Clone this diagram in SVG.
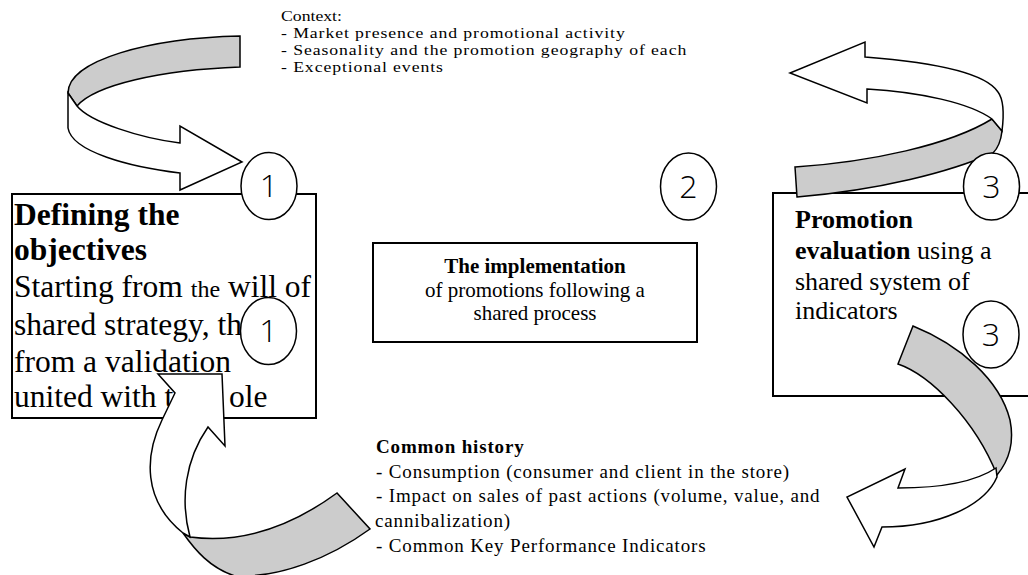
<svg xmlns="http://www.w3.org/2000/svg" width="1028" height="575" viewBox="0 0 1028 575">
  <style>
    .box { fill: #fff; stroke: #000; stroke-width: 2; }
    .badge { fill: #fff; stroke: #000; stroke-width: 1.5; }
    .digit { font-family: "Open Sans", "DejaVu Sans", sans-serif; font-weight: 300; font-size: 32px; text-anchor: middle; fill: #000; }
    .front { fill: #fff; stroke: #000; stroke-width: 1.5; stroke-linejoin: miter; }
    .back { fill: #ccc; stroke: #000; stroke-width: 1.5; stroke-linejoin: miter; }
    .serif { font-family: "Liberation Serif", "Times New Roman", serif; fill: #000; }
    .b { font-weight: bold; }
    .note-list { letter-spacing: 0.8px; }
    .history { letter-spacing: 0.85px; }
  </style>

  <!-- context note (top): slightly widened type, anchored at x=281 -->
  <g id="context-note" class="serif" font-size="15.4" transform="matrix(1.15 0 0 1 -42.15 0)">
    <text x="281" y="21">Context:</text>
    <text x="281" y="38" class="note-list">- Market presence and promotional activity</text>
    <text x="281" y="55" class="note-list">- Seasonality and the promotion geography of each</text>
    <text x="281" y="72" class="note-list">- Exceptional events</text>
  </g>

  <!-- step 1 -->
  <g id="node-objectives">
    <rect class="box" x="12" y="194" width="304" height="224"/>
    <g class="serif" font-size="31.5">
      <text x="14" y="225" class="b">Defining the</text>
      <text x="14" y="260" class="b">objectives</text>
      <text x="14" y="297">Starting from <tspan font-size="24">the</tspan> will of</text>
      <text x="14" y="335">shared strategy, th</text>
      <text x="14" y="372">from a validation</text>
      <text x="14" y="407">united with t<tspan x="229">ole</tspan></text>
    </g>
  </g>

  <!-- step 2 -->
  <g id="node-implementation">
    <rect class="box" x="373" y="243" width="324" height="99"/>
    <g class="serif" font-size="21" text-anchor="middle">
      <text x="535" y="273" class="b">The implementation</text>
      <text x="535" y="297">of promotions following a</text>
      <text x="535" y="320">shared process</text>
    </g>
  </g>

  <!-- step 3 -->
  <g id="node-evaluation">
    <rect class="box" x="773" y="193" width="270" height="203"/>
    <g class="serif" font-size="26">
      <text x="795" y="228" class="b">Promotion</text>
      <text x="795" y="259"><tspan class="b">evaluation</tspan> using a</text>
      <text x="795" y="290">shared system of</text>
      <text x="795" y="319">indicators</text>
    </g>
  </g>

  <!-- common history note (bottom) -->
  <g id="history-note" class="serif history" font-size="19">
    <text x="376" y="453" class="b">Common history</text>
    <text x="376" y="478">- Consumption (consumer and client in the store)</text>
    <text x="376" y="502">- Impact on sales of past actions (volume, value, and</text>
    <text x="375" y="527">cannibalization)</text>
    <text x="376" y="552">- Common Key Performance Indicators</text>
  </g>

  <!-- twisted ribbon arrows -->
  <g id="connectors">
    <g id="arrow-context-to-1">
      <path class="back" d="M240,36 L240,67 C160,70 95,85 77,106 L68,93 C68,60 150,38 240,36 Z"/>
      <path class="front" d="M77,106 C90,122 140,138 180,143 L180,126 L242,162 L180,190 L180,173 C130,167 72,152 68,128 L68,93 Z"/>
    </g>
    <g id="arrow-3-to-context">
      <path class="back" d="M795,167 C870,162 950,145 992,119 L1002,131 C1001,140 998,148 993,153 C950,172 880,190 797,197 Z"/>
      <path class="front" d="M1002,131 C1004,115 1004,100 998,92 C985,72 930,62 865,57 L865,42 L790,73 L867,103 L867,89 C920,92 970,103 992,119 Z"/>
    </g>
    <g id="arrow-3-to-history">
      <path class="back" d="M913,326 C960,345 1000,380 1010,420 C1015,445 1007,463 997,475 C975,420 930,375 898,364 Z"/>
      <path class="front" d="M996,468 C975,482 940,488 898,488 L905,469 L847,497 L874,547 L882,527 C940,527 985,505 997,477 Z"/>
    </g>
    <g id="arrow-history-to-1">
      <path class="back" d="M183,533 C195,550 210,568 235,576 C280,578 330,558 370,529 L337,493 C300,520 250,545 190,537 Z"/>
      <path class="front" d="M190,537 C180,500 185,460 208,427 L225,446 L222,374 L158,374 L175,393 L162,420 C145,455 142,500 183,533 Z"/>
    </g>
  </g>

  <!-- step badges -->
  <g id="badge-1a">
    <ellipse class="badge" cx="269" cy="186" rx="28" ry="33.5"/>
    <text class="digit" x="269" y="197">1</text>
  </g>
  <g id="badge-1b">
    <ellipse class="badge" cx="268.5" cy="331" rx="28" ry="33.5"/>
    <text class="digit" x="268.5" y="342">1</text>
  </g>
  <g id="badge-2">
    <ellipse class="badge" cx="688.5" cy="186.5" rx="28" ry="33.5"/>
    <text class="digit" x="688.5" y="197.5">2</text>
  </g>
  <g id="badge-3a">
    <ellipse class="badge" cx="991.5" cy="186.5" rx="28" ry="33.5"/>
    <text class="digit" x="991.5" y="197.5">3</text>
  </g>
  <g id="badge-3b">
    <ellipse class="badge" cx="991" cy="334.5" rx="28" ry="33.5"/>
    <text class="digit" x="991" y="345.5">3</text>
  </g>
</svg>
